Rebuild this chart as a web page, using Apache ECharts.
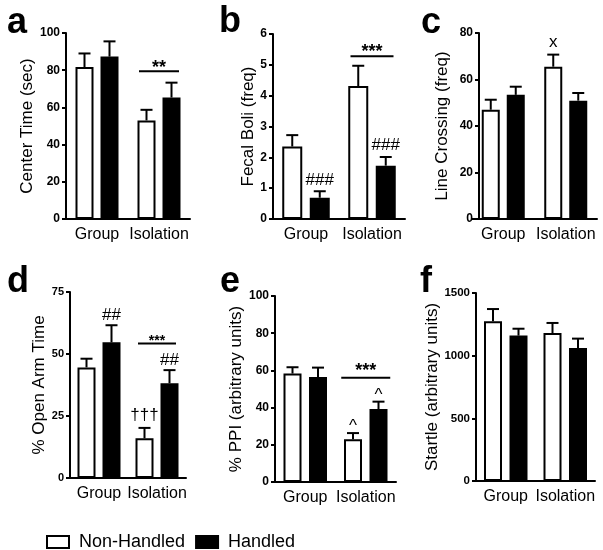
<!DOCTYPE html>
<html><head><meta charset="utf-8">
<script src="https://cdn.jsdelivr.net/npm/echarts@6/dist/echarts.min.js"></script>
<style>html,body{margin:0;padding:0;background:#fff}#c{width:603px;height:550px}</style>
</head><body><div id="c"></div><script>
// ---------- data ----------
const categories = ['Group', 'Isolation'];
const seriesNames = ['Non-Handled', 'Handled'];

// a: Center Time (sec)
const aNH = [81.7, 53.0], aNHerr = [7.3, 5.7];
const aH  = [87.3, 65.3], aHerr  = [8.2, 8.0];
const aTicks = [0, 20, 40, 60, 80, 100];
const aSig = [[1, 79.5]];                 // [category, y]
const aMarks = [[1, 0, 83.9, '**']];      // [category, side(-1 NH, 0 centre, 1 H), y, text]

// b: Fecal Boli (freq)
const bNH = [2.35, 4.31], bNHerr = [0.37, 0.66];
const bH  = [0.69, 1.73], bHerr  = [0.21, 0.28];
const bTicks = [0, 1, 2, 3, 4, 5, 6];
const bSig = [[1, 5.28]];
const bMarks = [[1, 0, 5.58, '***'], [0, 1, 1.27, '###'], [1, 1, 2.4, '###']];

// c: Line Crossing (freq)
const cNH = [47.0, 65.5], cNHerr = [4.3, 5.2];
const cH  = [53.4, 50.9], cHerr  = [3.5, 3.3];
const cTicks = [0, 20, 40, 60, 80];
const cSig = [];
const cMarks = [[1, -1, 75.7, 'x']];

// d: % Open Arm Time
const dNH = [44.6, 16.0], dNHerr = [3.5, 4.2];
const dH  = [54.7, 38.2], dHerr  = [6.9, 5.3];
const dTicks = [0, 25, 50, 75];
const dSig = [[1, 54.2]];
const dMarks = [[1, 0, 56.9, '***'], [0, 1, 65.7, '##'], [1, -1, 25.4, '†††'], [1, 1, 47.6, '##']];

// e: % PPI (arbitrary units)
const eNH = [58.3, 23.0], eNHerr = [3.4, 3.3];
const eH  = [56.5, 39.2], eHerr  = [5.0, 4.0];
const eTicks = [0, 20, 40, 60, 80, 100];
const eSig = [[1, 56.1]];
const eMarks = [[1, 0, 62.4, '***'], [1, -1, 31.7, '^'], [1, 1, 48.5, '^']];

// f: Startle (arbitrary units)
const fNH = [1274, 1181], fNHerr = [98, 80];
const fH  = [1160, 1061], fHerr  = [55, 75];
const fTicks = [0, 500, 1000, 1500];
const fSig = [];
const fMarks = [];

const yTitles = ['Center Time (sec)', 'Fecal Boli (freq)', 'Line Crossing (freq)',
                 '% Open Arm Time', '% PPI (arbitrary units)', 'Startle (arbitrary units)'];
const panelLetters = ['a', 'b', 'c', 'd', 'e', 'f'];

// ---------- layout / style ----------
const FONT = '"Liberation Sans", Arial, Helvetica, sans-serif';
const panels = [
  {nh: aNH, nhe: aNHerr, h: aH, he: aHerr, ticks: aTicks, sig: aSig, marks: aMarks,
   grid: {left: 66, top: 33, width: 124, height: 186}, bw: 18, sp: 25, sigHalf: 20, nameGap: 25, lab: 12, yOff: 0, sigFs: 18},
  {nh: bNH, nhe: bNHerr, h: bH, he: bHerr, ticks: bTicks, sig: bSig, marks: bMarks,
   grid: {left: 273, top: 34, width: 132, height: 185}, bw: 20, sp: 27.5, sigHalf: 21.5, nameGap: 15, lab: 12, yOff: 0, sigFs: 18},
  {nh: cNH, nhe: cNHerr, h: cH, he: cHerr, ticks: cTicks, sig: cSig, marks: cMarks,
   grid: {left: 472, top: 33, width: 125, height: 186}, bw: 18, sp: 25, sigHalf: 20, nameGap: 28, lab: 12, yOff: -7, sigFs: 18},
  {nh: dNH, nhe: dNHerr, h: dH, he: dHerr, ticks: dTicks, sig: dSig, marks: dMarks,
   grid: {left: 70, top: 292, width: 116, height: 186}, bw: 18, sp: 25, sigHalf: 19, nameGap: 17, lab: 11, yOff: 0, sigFs: 14},
  {nh: eNH, nhe: eNHerr, h: eH, he: eHerr, ticks: eTicks, sig: eSig, marks: eMarks,
   grid: {left: 275, top: 296, width: 121, height: 186}, bw: 18, sp: 25.5, sigHalf: 24.5, nameGap: 30, lab: 12, yOff: 0, sigFs: 18},
  {nh: fNH, nhe: fNHerr, h: fH, he: fHerr, ticks: fTicks, sig: fSig, marks: fMarks,
   grid: {left: 476, top: 293, width: 119, height: 188}, bw: 18, sp: 25.5, sigHalf: 20, nameGap: 28, lab: 11.5, yOff: 0, sigFs: 18}
];
const letterPos = [[7, 5], [219, 4], [421, 5], [7, 264], [220, 264], [420, 264]];

const grids = [], xAxes = [], yAxes = [], series = [], titles = [];

function errRender(off) {
  return function (params, api) {
    const c = api.coord([api.value(0), api.value(1)]);
    const t = api.coord([api.value(0), api.value(1) + api.value(2)]);
    const x = c[0] + off;
    return {type: 'group', children: [
      {type: 'line', shape: {x1: x, y1: c[1], x2: x, y2: t[1]}, style: {stroke: '#000', lineWidth: 2}},
      {type: 'line', shape: {x1: x - 6, y1: t[1], x2: x + 6, y2: t[1]}, style: {stroke: '#000', lineWidth: 2}}
    ]};
  };
}

panels.forEach((p, i) => {
  grids.push(Object.assign({containLabel: false}, p.grid));
  xAxes.push({
    type: 'category', gridIndex: i, data: categories,
    axisLine: {lineStyle: {color: '#000', width: 2}},
    axisTick: {show: false},
    axisLabel: {color: '#000', fontSize: 16, fontFamily: FONT, margin: 8, interval: 0, hideOverlap: false}
  });
  const step = p.ticks[1] - p.ticks[0];
  yAxes.push({
    type: 'value', gridIndex: i, min: p.ticks[0], max: p.ticks[p.ticks.length - 1], interval: step,
    offset: p.yOff,
    axisLine: {show: true, lineStyle: {color: '#000', width: 2}},
    axisTick: {show: true, length: 4, lineStyle: {color: '#000', width: 2}},
    axisLabel: {color: '#000', fontSize: p.lab, fontWeight: 'bold', fontFamily: FONT, margin: 6,
                formatter: v => String(v)},
    splitLine: {show: false},
    name: yTitles[i], nameLocation: 'middle', nameGap: p.nameGap,
    nameTextStyle: {color: '#000', fontSize: 17, fontFamily: FONT}
  });
  const gapPct = ((p.sp - p.bw) / p.bw * 100) + '%';
  [[p.nh, p.nhe, '#fff'], [p.h, p.he, '#000']].forEach((s, k) => {
    series.push({
      type: 'bar', name: seriesNames[k], xAxisIndex: i, yAxisIndex: i,
      data: s[0], barWidth: p.bw, barGap: gapPct, silent: true,
      itemStyle: {color: s[2], borderColor: '#000', borderWidth: 2}, z: 3
    });
    series.push({
      type: 'custom', xAxisIndex: i, yAxisIndex: i, silent: true, z: 2,
      data: s[0].map((v, j) => [j, v, s[1][j]]),
      encode: {x: 0, y: 1},
      renderItem: errRender((k === 0 ? -1 : 1) * p.sp / 2)
    });
  });
  if (p.sig.length) {
    series.push({
      type: 'custom', xAxisIndex: i, yAxisIndex: i, silent: true, z: 4,
      data: p.sig.map(d => [d[0], d[1]]), encode: {x: 0, y: 1},
      renderItem: (params, api) => {
        const c = api.coord([api.value(0), api.value(1)]);
        return {type: 'line', shape: {x1: c[0] - p.sigHalf, y1: c[1], x2: c[0] + p.sigHalf, y2: c[1]},
                style: {stroke: '#000', lineWidth: 2}};
      }
    });
  }
  if (p.marks.length) {
    series.push({
      type: 'custom', xAxisIndex: i, yAxisIndex: i, silent: true, z: 4,
      data: p.marks.map(d => [d[0], d[2]]), encode: {x: 0, y: 1},
      renderItem: (params, api) => {
        const m = p.marks[params.dataIndex];
        const c = api.coord([api.value(0), api.value(1)]);
        const txt = m[3];
        let fs = 17, fw = 'normal', shift = 0;
        if (txt.indexOf('*') >= 0) { fs = p.sigFs; fw = 'bold'; shift = 0.28 * fs; }
        else if (txt === '^') { shift = 0.2 * fs; }
        else if (txt === 'x') { shift = -0.05 * fs; }
        return {type: 'text', x: c[0] + m[1] * p.sp / 2, y: c[1] + shift,
                style: {text: txt, fill: '#000', font: fw + ' ' + fs + 'px ' + FONT,
                        align: 'center', verticalAlign: 'middle'}};
      }
    });
  }
  titles.push({
    text: panelLetters[i], left: letterPos[i][0], top: letterPos[i][1], padding: 0,
    textStyle: {color: '#000', fontSize: 36, fontWeight: 'bold', fontFamily: FONT}
  });
});

const chart = echarts.init(document.getElementById('c'), null, {renderer: 'canvas'});
chart.setOption({
  backgroundColor: '#fff',
  animation: false,
  title: titles,
  legend: {
    data: seriesNames, left: 41, top: 528, icon: 'rect', itemWidth: 22, itemHeight: 12,
    itemGap: 10, selectedMode: false,
    textStyle: {color: '#000', fontSize: 18, fontFamily: FONT, padding: [0, 0, 0, 5]}
  },
  grid: grids, xAxis: xAxes, yAxis: yAxes, series: series
});
</script></body></html>
